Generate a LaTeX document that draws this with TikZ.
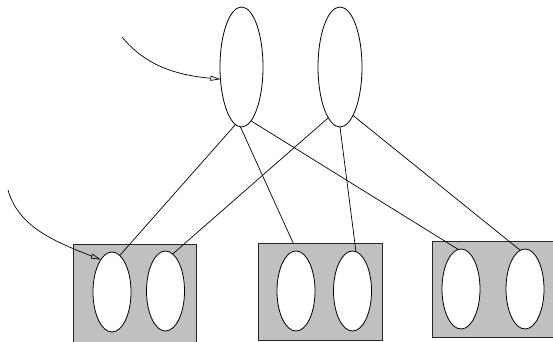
\documentclass[tikz,border=0pt]{standalone}
\usetikzlibrary{shapes.geometric,arrows.meta}
\definecolor{boxgray}{RGB}{192,192,192}
\tikzset{
  oval/.style={ellipse,draw=black,fill=white,line width=0.8pt,inner sep=0pt,outer sep=0pt},
  bigoval/.style={oval,minimum width=43pt,minimum height=120pt},
  smalloval/.style={oval,minimum width=38pt,minimum height=80pt},
  graybox/.style={rectangle,draw=black!85,fill=boxgray,line width=0.9pt,inner sep=0pt,outer sep=0pt},
  link/.style={line width=0.7pt},
  pointer/.style={line width=0.7pt,-{Triangle[open,length=10pt,width=5pt]}}
}
\begin{document}
\begin{tikzpicture}[x=1pt,y=-1pt]
\useasboundingbox (0,0) rectangle (553,341);
% boxes
\node[graybox,minimum width=123pt,minimum height=98pt] (box1) at (134.5,293) {};
\node[graybox,minimum width=124pt,minimum height=97pt] (box2) at (320,291.5) {};
\node[graybox,minimum width=124pt,minimum height=96pt] (box3) at (494,289) {};
% top ovals
\node[bigoval] (t1) at (241.5,67) {};
\node[bigoval,minimum width=44pt] (t2) at (340,67) {};
% small ovals
\node[smalloval] (b1a) at (112,292) {};
\node[smalloval] (b1b) at (165.5,291) {};
\node[smalloval] (b2a) at (296,291) {};
\node[smalloval] (b2b) at (352.5,291) {};
\node[smalloval] (b3a) at (461,289) {};
\node[smalloval] (b3b) at (525,289) {};
% links
\draw[link] (t1.-96) -- (b1a.78);
\draw[link] (t1.-91) -- (box2.119);
\draw[link] (t1.-80) -- (b3a.94);
\draw[link] (t2.-103) -- (b1b.79);
\draw[link] (t2.-90) -- (b2b.85);
\draw[link] (t2.-75) -- (b3b.97);
% pointers
\coordinate (s1) at (122,37);
\coordinate (s2) at (8,190);
\draw[pointer] (s1) .. controls (145,65) and (175,75) .. (t1.210);
\draw[pointer] (s2) .. controls (18,225) and (50,240) .. (b1a.109);
\end{tikzpicture}
\end{document}
